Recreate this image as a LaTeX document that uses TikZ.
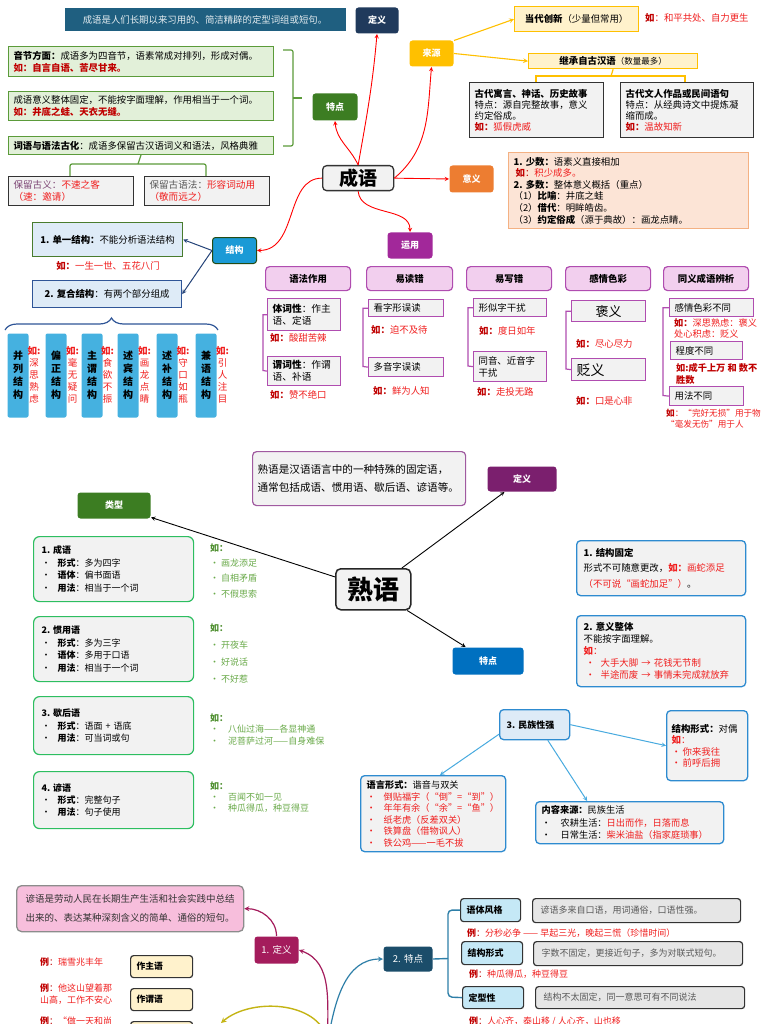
\documentclass[tikz,border=0pt]{standalone}
\usepackage{fontspec}
\setmainfont{Noto Sans CJK SC}
\usetikzlibrary{decorations.pathreplacing}

\definecolor{defb}{HTML}{1F5F80}
\definecolor{navy}{HTML}{203A5C}
\definecolor{tgreen}{HTML}{3C7D22}
\definecolor{lgreen}{HTML}{E2F0D9}
\definecolor{bgreen}{HTML}{5B9B3A}
\definecolor{gold}{HTML}{FFC000}
\definecolor{lgold}{HTML}{FFF2CC}
\definecolor{orng}{HTML}{ED7D31}
\definecolor{lsalm}{HTML}{FCE4D6}
\definecolor{bsalm}{HTML}{F4B183}
\definecolor{purp}{HTML}{A2289A}
\definecolor{lpurp}{HTML}{F2CFEE}
\definecolor{bpurp}{HTML}{B04DB0}
\definecolor{sky}{HTML}{1A9AD6}
\definecolor{lsky}{HTML}{DEEBF7}
\definecolor{bsky}{HTML}{2F5597}
\definecolor{vsky}{HTML}{45B1E0}
\definecolor{lgray}{HTML}{F2F2F2}
\definecolor{rd}{HTML}{F01E1E}
\definecolor{drd}{HTML}{C00000}
\definecolor{mpurp}{HTML}{7B1F6E}
\definecolor{bpurp2}{HTML}{A05AA0}
\definecolor{bblue}{HTML}{0070C0}
\definecolor{gbord}{HTML}{2DBE60}
\definecolor{exg}{HTML}{6AAA4A}
\definecolor{exgd}{HTML}{4E8F2F}
\definecolor{bbord}{HTML}{2E8BD0}
\definecolor{larr}{HTML}{48AADF}
\definecolor{pnk}{HTML}{F7BEDC}
\definecolor{crim}{HTML}{A41C5C}
\definecolor{tteal}{HTML}{1B4D6A}
\definecolor{tline}{HTML}{2E7FA8}
\definecolor{ltb}{HTML}{C5E8F6}
\definecolor{qgray}{HTML}{E6E6E6}
\definecolor{oliv}{HTML}{C4B414}

\newcommand\fsz[2]{\fontsize{#1}{#2}\selectfont}
\newcommand\bul[1][16pt]{\makebox[#1][l]{•}}
\newcommand\gd[1][11pt]{\makebox[#1][l]{·}}

\begin{document}
\begin{tikzpicture}[x=1pt, y=-1pt, font=\fsz{9.4}{11.5},
  bx/.style={draw, line width=1pt, anchor=north west, inner xsep=5pt, inner ysep=2pt, align=left},
  sz/.code 2 args={\pgfmathsetlengthmacro\bxtw{#1-2*\pgfkeysvalueof{/pgf/inner xsep}}%
    \edef\bxk{\noexpand\pgfkeysalso{minimum width=#1pt,minimum height=#2pt,text width=\bxtw}}\bxk},
  key/.style={bx, draw=none, rounded corners=3pt, align=center, text=white, font=\bfseries\fsz{9}{10}},
  hdr/.style={bx, fill=lpurp, draw=bpurp, rounded corners=4pt, line width=1.2pt, align=center, font=\bfseries\fsz{9.4}{11}},
  gbx/.style={bx, fill=lgray, draw=bpurp, line width=1.3pt},
  vbx/.style={bx, draw=none, fill=vsky, rounded corners=2pt, align=center, inner xsep=2pt, font=\bfseries\fsz{10}{13}},
  vex/.style={anchor=north, inner sep=0pt, align=center, text=rd, font=\fsz{9.5}{12}},
  tbx/.style={bx, fill=lgray, draw=gbord, rounded corners=6pt, line width=1.2pt, inner xsep=8pt, font=\fsz{9}{12.4}},
  rbx/.style={bx, fill=lgray, draw=bbord, rounded corners=4pt, line width=1.3pt, inner xsep=7pt},
  sbx/.style={bx, fill=ltb, draw=black!80, rounded corners=3pt, line width=1.2pt, inner xsep=6pt, font=\bfseries\fsz{9}{10}},
  qbx/.style={bx, fill=qgray, draw=black!80, rounded corners=3pt, line width=1.2pt, inner xsep=8pt, text=black!65, font=\fsz{9}{10}},
  ybx/.style={bx, fill=lgold, draw=black!80, rounded corners=3pt, line width=1.2pt, inner xsep=6pt, font=\bfseries\fsz{8.8}{10}},
  ex/.style={anchor=west, inner sep=0pt, text=rd, align=left},
  ex2/.style={anchor=north west, inner sep=0pt, text=exg, align=left},
  rarr/.style={red, line width=0.9pt, -stealth},
  yarr/.style={gold, line width=1.1pt, -stealth},
  darr/.style={bsky!80!black, line width=1pt, -stealth},
  barr/.style={black, line width=0.9pt, -stealth},
  larw/.style={larr, line width=1pt, -stealth},
  pline/.style={bpurp, line width=1.2pt},
  tl/.style={tline, line width=1.4pt, rounded corners=4pt}]
\useasboundingbox (0,0) rectangle (768,1024);
\clip (0,0) rectangle (768,1024);
\fill[white] (0,0) rectangle (768,1024);

%CHENGYU
\node[key, fill=lgray, draw=black!80, line width=1.3pt, rounded corners=4pt, text=black, font=\bfseries\fsz{19}{20}, sz={71}{25}] (CY) at (322,165) {成语};
\node[bx, draw=none, fill=defb, text=white!88!defb, align=center, sz={281}{23}] (D0) at (64,8) {成语是人们长期以来习用的、简洁精辟的定型词组或短句。};
\node[key, fill=navy, sz={43}{26}] (DY) at (355,7) {定义};
\node[key, fill=tgreen, sz={45}{27}] (TD) at (312,93) {特点};
\node[key, fill=gold, sz={44}{26}] (LY) at (409,40) {来源};
\node[key, fill=orng, sz={44}{27}] (YY) at (449,165) {意义};
\node[key, fill=purp, sz={45}{26}] (YU) at (387,232) {运用};
\node[key, fill=sky, draw=tgreen!60!black, sz={44}{26}] (JG) at (212,237) {结构};
\draw[rarr] (CY.north) to[out=80,in=-95] (DY.south);
\draw[rarr] (CY.north) to[out=115,in=-85] (TD.south);
\draw[rarr] (CY.east) to[out=40,in=-95] (LY.south);
\draw[rarr] (CY.east) -- (YY.west);
\draw[rarr] (CY.south) to[out=-85,in=90] (YU.north);
\draw[rarr] (CY.west) .. controls (285,178) and (298,250) .. (JG.east);

\node[bx, fill=lgreen, draw=bgreen, font=\fsz{9.4}{12}, sz={265}{30}] (A1) at (8,46) {\textbf{音节方面：}成语多为四音节，语素常成对排列，形成对偶。\\{\color{drd}\textbf{如：自言自语、苦尽甘来。}}};
\node[bx, fill=lgreen, draw=bgreen, font=\fsz{9.4}{12}, sz={265}{29}] (A2) at (8,91) {成语意义整体固定，不能按字面理解，作用相当于一个词。\\{\color{drd}\textbf{如：井底之蛙、天衣无缝。}}};
\node[bx, fill=lgreen, draw=bgreen, sz={265}{18}] (A3) at (8,136) {\textbf{词语与语法古化}：成语多保留古汉语词义和语法，风格典雅};
\node[bx, fill=lgray, draw=black!80, font=\fsz{9.6}{11.5}, sz={125}{29}] (B1) at (8,176) {{\color{mpurp!60!gray}保留古义：}{\color{rd}不速之客}\\{\color{rd}（速：邀请）}};
\node[bx, fill=lgray, draw=black!80, font=\fsz{9.6}{11.5}, sz={125}{29}] (B2) at (144,176) {{\color{black!65}保留古语法：}{\color{rd}形容词动用}\\{\color{rd}（敬而远之）}};
\draw[bgreen, line width=1.2pt, rounded corners=2pt] (283,50) -| (293,146) -- (283,146);
\draw[bgreen, line width=1.2pt] (293,98) -- (302,98);
\draw[bgreen, line width=1.2pt, rounded corners=2pt] (70,176) |- (206,164) -- (206,176);
\draw[bgreen, line width=1.2pt] (138,164) -- (A3.south);

\node[bx, fill=lgold, draw=gold, line width=1.3pt, align=center, sz={124}{25}] (DC) at (514,6) {\textbf{当代创新}（少量但常用）};
\node[ex] at (645,18) {{\color{drd}\textbf{如}}：和平共处、自力更生};
\node[bx, fill=lgold, draw=gold, line width=1.3pt, align=center, inner ysep=0pt, sz={169}{15}] (JC) at (528,53) {\textbf{继承自古汉语}{\fsz{8.5}{9}（数量最多）}};
\draw[yarr] (LY.30) -- (DC.west);
\draw[yarr] (LY.east) -- (JC.west);
\draw[gold, line width=1.2pt] (536,83) |- (685,76) -- (685,83);
\draw[gold, line width=1.2pt] (611,76) -- (JC.south);
\node[bx, fill=lgray, draw=black!80, line width=1.3pt, font=\fsz{9.4}{11}, sz={134}{55}] (G1) at (469,82) {\textbf{古代寓言、神话、历史故事}\\特点：源自完整故事，意义\\约定俗成。\\{\color{drd}\textbf{如：}}{\color{rd}狐假虎威}};
\node[bx, fill=lgray, draw=black!80, line width=1.3pt, font=\fsz{9.4}{11}, sz={133}{55}] (G2) at (620,82) {\textbf{古代文人作品或民间语句}\\特点：从经典诗文中提炼凝\\缩而成。\\{\color{drd}\textbf{如：}}{\color{rd}温故知新}};
\node[bx, fill=lsalm, draw=bsalm, line width=1.2pt, font=\fsz{9.4}{11.6}, sz={240}{76}] (YB) at (508,152) {\textbf{1.~少数：}语素义直接相加\\\hspace*{2pt}{\color{drd}\textbf{如}：}{\color{rd}积少成多。}\\\textbf{2.~多数：}整体意义概括（重点）\\（1）\textbf{比喻}：井底之蛙\\（2）\textbf{借代}：明眸皓齿。\\（3）\textbf{约定俗成}（源于典故）：画龙点睛。};

%JIEGOU
\node[bx, fill=lsky, draw=bgreen!80!black, line width=1.2pt, align=center, sz={150}{34}] (J1) at (32,222) {\textbf{1.~单一结构：}不能分析语法结构};
\node[ex, anchor=center] at (108,266) {{\color{drd}\textbf{如：}}一生一世、五花八门};
\node[bx, fill=lsky, draw=bsky, line width=1.2pt, align=center, sz={149}{27}] (J2) at (32,280) {\textbf{2.~复合结构}：有两个部分组成};
\draw[darr] (JG.west) -- (J1.east);
\draw[darr] (JG.west) -- (J2.east);
\draw[bsky, line width=1.2pt, decorate, decoration={brace, amplitude=12pt}] (5,330) -- (218,330);
\node[vbx, sz={21}{84}] (V1) at (7,333) {并\\列\\结\\构};
\node[vbx, sz={21}{84}] (V2) at (45,333) {偏\\正\\结\\构};
\node[vbx, sz={21}{84}] (V3) at (81,333) {主\\谓\\结\\构};
\node[vbx, sz={21}{84}] (V4) at (117,333) {述\\宾\\结\\构};
\node[vbx, sz={21}{84}] (V5) at (156,333) {述\\补\\结\\构};
\node[vbx, sz={21}{84}] (V6) at (195,333) {兼\\语\\结\\构};
\node[vex] at (34,346) {\textbf{如:}\\深\\思\\熟\\虑};
\node[vex] at (72.5,346) {\textbf{如:}\\毫\\无\\疑\\问};
\node[vex] at (107.5,346) {\textbf{如:}\\食\\欲\\不\\振};
\node[vex] at (144.5,346) {\textbf{如:}\\画\\龙\\点\\睛};
\node[vex] at (183,346) {\textbf{如:}\\守\\口\\如\\瓶};
\node[vex] at (222.5,346) {\textbf{如:}\\引\\人\\注\\目};

%YUNYONG
\node[hdr, sz={85}{24}] (H1) at (265,266) {语法作用};
\node[hdr, sz={86}{24}] (H2) at (366,266) {易读错};
\node[hdr, sz={85}{24}] (H3) at (466,266) {易写错};
\node[hdr, sz={85}{24}] (H4) at (565,266) {感情色彩};
\node[hdr, sz={85}{24}] (H5) at (663,266) {同义成语辨析};
\node[gbx, font=\fsz{9.7}{12}, sz={73}{32}] (P1) at (267,298) {\textbf{体词性}：作主\\语、定语};
\node[ex] at (270,338) {{\color{drd}\textbf{如：}}酸甜苦辣};
\node[gbx, font=\fsz{9.7}{12}, sz={73}{29}] (P2) at (267,356) {\textbf{谓词性}：作谓\\语、补语};
\node[ex] at (270,395) {{\color{drd}\textbf{如：}}赞不绝口};
\draw[pline] (P1.west) -| (263,370.5) -- (P2.west);
\node[gbx, sz={75}{17}] (R1) at (368,299) {看字形误读};
\node[ex] at (371,330) {{\color{drd}\textbf{如：}}迫不及待};
\node[gbx, sz={75}{19}] (R2) at (368,357) {多音字误读};
\node[ex] at (373,391) {{\color{drd}\textbf{如：}}鲜为人知};
\draw[pline] (R1.west) -| (363,366.5) -- (R2.west);
\node[gbx, sz={73}{18}] (W1) at (473,298) {形似字干扰};
\node[ex] at (479,331) {{\color{drd}\textbf{如：}}度日如年};
\node[gbx, font=\fsz{9.4}{12}, sz={73}{30}] (W2) at (473,351) {同音、近音字\\干扰};
\node[ex] at (477,392) {{\color{drd}\textbf{如：}}走投无路};
\draw[pline] (W1.west) -| (468,366) -- (W2.west);
\node[gbx, align=center, font=\fsz{13}{14}, sz={74}{21}] (E1) at (571,300) {褒义};
\node[ex] at (576,344) {{\color{drd}\textbf{如：}}尽心尽力};
\node[gbx, font=\fsz{14}{15}, sz={74}{22}] (E2) at (571,358) {贬义};
\node[ex] at (576,401) {{\color{drd}\textbf{如：}}口是心非};
\draw[pline] (E1.west) -| (566,369) -- (E2.west);
\node[gbx, sz={84}{18}] (T1) at (669,298) {感情色彩不同};
\node[ex, anchor=north west, font=\fsz{9.2}{11}] at (674,318.5) {{\color{drd}\textbf{如：}}深思熟虑：褒义\\处心积虑：贬义};
\node[gbx, sz={72}{18}] (T2) at (670,341) {程度不同};
\node[ex, anchor=north west, text=drd, font=\bfseries\fsz{9.2}{12}] at (676,363.5) {如:成千上万 和 数不\\胜数};
\node[gbx, sz={74}{19}] (T3) at (669,386) {用法不同};
\node[ex, anchor=north west, font=\fsz{8.6}{11.5}] at (666,408.5) {{\color{drd}\textbf{如}}：“完好无损”用于物\\“毫发无伤”用于人};
\draw[pline] (T1.west) -| (663,395.5) -- (T3.west);

%SHUYU
\node[bx, fill=lgray, draw=bpurp2, rounded corners=4pt, line width=1.2pt, font=\fsz{10.6}{18}, sz={213}{54}] (D2) at (252,451) {熟语是汉语语言中的一种特殊的固定语，\\通常包括成语、惯用语、歇后语、谚语等。};
\node[key, fill=lgray, draw=black!85, line width=1.5pt, rounded corners=5pt, text=black, font=\bfseries\fsz{26}{27}, sz={75}{41}] (SY) at (335,568) {熟语};
\node[key, fill=mpurp, sz={69}{25}] (DY2) at (487,466) {定义};
\node[key, fill=tgreen, sz={73}{26}] (LX) at (77,492) {类型};
\node[key, fill=bblue, sz={71}{27}] (TD2) at (452,647) {特点};
\draw[barr] (SY) -- (DY2);
\draw[barr] (SY) -- (LX);
\draw[barr] (SY) -- (TD2);

\node[tbx, sz={160}{65}] (K1) at (33,536) {\textbf{1.~成语}\\\bul\textbf{形式}：多为四字\\\bul\textbf{语体}：偏书面语\\\bul\textbf{用法}：相当于一个词};
\node[tbx, sz={160}{65}] (K2) at (33,616) {\textbf{2.~惯用语}\\\bul\textbf{形式}：多为三字\\\bul\textbf{语体}：多用于口语\\\bul\textbf{用法}：相当于一个词};
\node[tbx, sz={160}{58}] (K3) at (33,696) {\textbf{3.~歇后语}\\\bul\textbf{形式}：语面 + 语底\\\bul\textbf{用法}：可当词或句};
\node[tbx, sz={160}{57}] (K4) at (33,771) {\textbf{4.~谚语}\\\bul\textbf{形式}：完整句子\\\bul\textbf{用法}：句子使用};
\node[ex2, font=\fsz{9}{15.3}] at (210,543.5) {{\color{exgd}\textbf{如：}}\\\gd 画龙添足\\\gd 自相矛盾\\\gd 不假思索};
\node[ex2, font=\fsz{9}{17}] at (210,623.5) {{\color{exgd}\textbf{如：}}\\\gd 开夜车\\\gd 好说话\\\gd 不好惹};
\node[ex2, font=\fsz{9}{11.5}] at (210,713.5) {{\color{exgd}\textbf{如：}}\\\gd[18pt]八仙过海——各显神通\\\gd[18pt]泥菩萨过河——自身难保};
\node[ex2, font=\fsz{9}{11}] at (210,781.5) {{\color{exgd}\textbf{如：}}\\\gd[18pt]百闻不如一见\\\gd[18pt]种瓜得瓜，种豆得豆};

\node[rbx, font=\fsz{9.4}{15.5}, sz={169}{55}] (F1) at (576,540) {\textbf{1.~结构固定}\\形式不可随意更改，{\color{rd}\textbf{如：}画蛇添足}\\{\color{rd}（不可说“画蛇加足”）}。};
\node[rbx, font=\fsz{9.4}{12}, sz={169}{71}] (F2) at (576,615) {\textbf{2.~意义整体}\\不能按字面理解。\\{\color{rd}\textbf{如}：}\\\hspace*{2pt}{\color{rd}\bul[15pt]大手大脚 → 花钱无节制}\\\hspace*{2pt}{\color{rd}\bul[15pt]半途而废 → 事情未完成就放弃}};
\node[rbx, fill=lsky, font=\bfseries\fsz{9}{11}, sz={70}{30}] (F3) at (499,709) {3.~民族性强};
\node[rbx, inner xsep=5pt, font=\fsz{9.4}{11.5}, sz={81}{70}] (F4) at (666,710) {\textbf{结构形式：}对偶\\{\color{rd}\textbf{如}：}\\{\color{rd}\bul[11pt]你来我往}\\{\color{rd}\bul[11pt]前呼后拥}};
\node[rbx, inner xsep=6pt, font=\fsz{9.2}{11.5}, sz={145}{76}] (F5) at (360,775) {\textbf{语言形式：}谐音与双关\\{\color{rd}\bul[17pt]倒贴福字（“倒”=“到”）}\\{\color{rd}\bul[17pt]年年有余（“余”=“鱼”）}\\{\color{rd}\bul[17pt]纸老虎（反差双关）}\\{\color{rd}\bul[17pt]铁算盘（借物讽人）}\\{\color{rd}\bul[17pt]铁公鸡——一毛不拔}};
\node[rbx, inner xsep=6pt, font=\fsz{9.2}{12.5}, sz={188}{42}] (F6) at (535,801) {\textbf{内容来源：}民族生活\\\bul[19pt]农耕生活：{\color{rd}日出而作，日落而息}\\\bul[19pt]日常生活：{\color{rd}柴米油盐（指家庭琐事）}};
\draw[larw] (F3.195) -- (F5.80);
\draw[larw] (F3.-50) -- (F6.153);
\draw[larw] (F3.east) -- (F4.west);

%YANYU
\coordinate (R) at (328,1040);
\coordinate (Y0) at (221,1023);
\node[bx, fill=pnk, draw=black!45, rounded corners=5pt, line width=1.3pt, inner xsep=9pt, text=black!80, font=\fsz{9.5}{19}, sz={227}{46}] (PB) at (16,885) {谚语是劳动人民在长期生产生活和社会实践中总结\\出来的、表达某种深刻含义的简单、通俗的短句。};
\node[key, fill=crim, font=\fsz{9.5}{10}, sz={44}{27}] (ZD) at (254,936) {1.~定义};
\node[key, fill=tteal, font=\fsz{9.5}{10}, sz={49}{25}] (ZT) at (383,946) {2.~特点};
\draw[crim, line width=1.2pt, -stealth] (R) to[out=92,in=-20] (ZD.east);
\draw[crim, line width=1.2pt, -stealth] (ZD.north) to[out=90,in=0] (PB.east);
\draw[tline, line width=1.2pt, -stealth] (R) to[out=80,in=180] (ZT.west);
\draw[oliv, line width=1.4pt, -stealth] (R) .. controls (318,1000) and (250,998) .. (Y0);

\node[sbx, sz={60}{23}] (ZS1) at (460,898) {语体风格};
\node[sbx, sz={61}{23}] (ZS2) at (461,941) {结构形式};
\node[sbx, sz={61}{22}] (ZS3) at (462,986) {定型性};
\draw[tl] (ZS1.west) -| (448,997) -- (ZS3.west);
\draw[tl] (ZT.east) -- (448,958.5);
\node[qbx, sz={208}{24}] (ZQ1) at (532,898) {谚语多来自口语，用词通俗，口语性强。};
\node[qbx, sz={209}{24}] (ZQ2) at (533,941) {字数不固定，更接近句子，多为对联式短句。};
\node[qbx, sz={209}{22}] (ZQ3) at (535,986) {结构不太固定，同一意思可有不同说法};
\node[ex, font=\fsz{9}{10}] at (467,933) {{\color{drd}\textbf{例}：}分秒必争\ ——\ 早起三光，晚起三慌（珍惜时间）};
\node[ex, font=\fsz{9}{10}] at (469,974) {{\color{drd}\textbf{例}：}种瓜得瓜，种豆得豆};
\node[ex, font=\fsz{9}{10}] at (469,1021) {{\color{drd}\textbf{例}：}人心齐，泰山移 / 人心齐，山也移};

\node[ex, font=\fsz{9}{10}] at (40,962) {{\color{drd}\textbf{例}：}瑞雪兆丰年};
\node[ex, anchor=north west, font=\fsz{9}{12}] at (40,983.5) {{\color{drd}\textbf{例}：}他这山望着那\\山高，工作不安心};
\node[ex, font=\fsz{9}{10}] at (40,1021) {{\color{drd}\textbf{例}：}“做一天和尚};
\node[ybx, sz={62}{22}] (ZY1) at (130,955) {作主语};
\node[ybx, sz={62}{22}] (ZY2) at (130,988) {作谓语};
\node[ybx, sz={62}{22}] (ZY3) at (130,1021) {};
\end{tikzpicture}
\end{document}
